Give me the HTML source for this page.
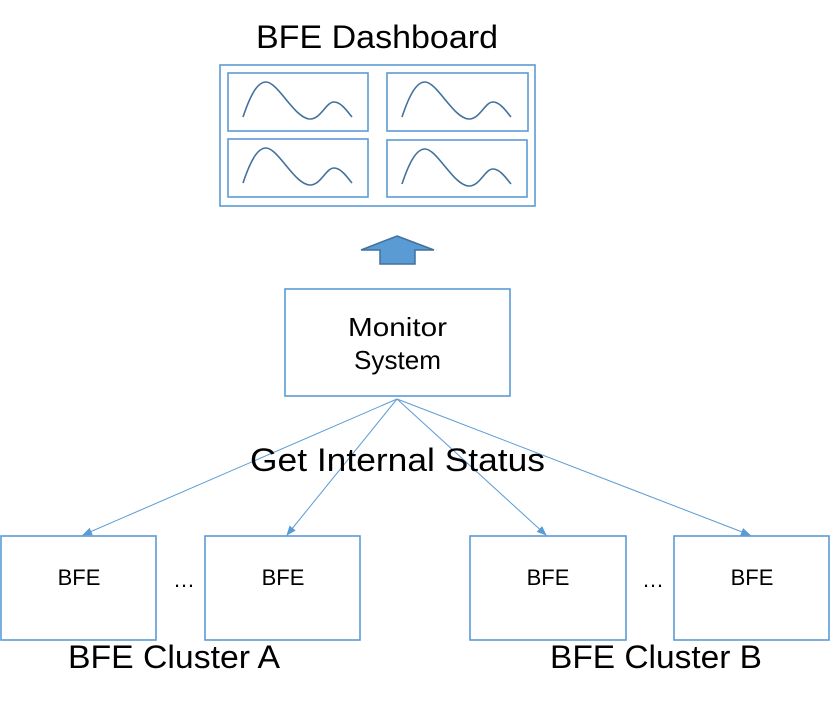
<!DOCTYPE html>
<html><head><style>body{margin:0;background:#fff}</style></head><body>
<svg width="830" height="700" xmlns="http://www.w3.org/2000/svg" font-family="'Liberation Sans', sans-serif">
<defs><marker id="a" markerWidth="10" markerHeight="8" refX="9" refY="4" orient="auto" markerUnits="userSpaceOnUse"><path d="M0,0 L10,4 L0,8z" fill="#5b9bd5"/></marker>
<path id="c" d="M0,44 C8,20 15,9 23,9 C35,9 52,46 67,46 C78,46 83,29 91,29 C98,29 104,38 109,44" fill="none" stroke="#41719c" stroke-width="1.6"/></defs>
<text x="256" y="48" font-size="32" textLength="242" lengthAdjust="spacingAndGlyphs">BFE Dashboard</text>
<g fill="none" stroke="#5b9bd5" stroke-width="1.6">
<rect x="220" y="65" width="315" height="141"/>
<rect x="228" y="73" width="140" height="58"/>
<rect x="387" y="73" width="141" height="58"/>
<rect x="228" y="139" width="140" height="58"/>
<rect x="387" y="140" width="140" height="57"/>
<rect x="285" y="289" width="225" height="107"/>
<rect x="1" y="536" width="155" height="104"/>
<rect x="205" y="536" width="155" height="104"/>
<rect x="470" y="536" width="156" height="104"/>
<rect x="674" y="536" width="155" height="104"/>
</g>
<use href="#c" x="243" y="73"/><use href="#c" x="402" y="73"/>
<use href="#c" x="243" y="139"/><use href="#c" x="402" y="140"/>
<path d="M397,236 L434,250 L415,250 L415,264 L380,264 L380,250 L361,250z" fill="#5b9bd5" stroke="#41719c" stroke-width="1.5"/>
<text x="348" y="336" font-size="26" textLength="99" lengthAdjust="spacingAndGlyphs">Monitor</text>
<text x="354" y="369" font-size="26" textLength="87" lengthAdjust="spacingAndGlyphs">System</text>
<g stroke="#5b9bd5" stroke-width="1" marker-end="url(#a)">
<line x1="397" y1="399" x2="83" y2="535"/>
<line x1="397" y1="399" x2="287" y2="535"/>
<line x1="397" y1="399" x2="546" y2="535"/>
<line x1="397" y1="399" x2="750" y2="535"/>
</g>
<text x="250" y="471" font-size="32" textLength="295" lengthAdjust="spacingAndGlyphs">Get Internal Status</text>
<g font-size="22" text-anchor="middle">
<text x="79" y="585">BFE</text><text x="283" y="585">BFE</text>
<text x="548" y="585">BFE</text><text x="752" y="585">BFE</text>
<text x="184" y="587">…</text><text x="653" y="587">…</text>
</g>
<text x="68" y="668" font-size="32" textLength="212" lengthAdjust="spacingAndGlyphs">BFE Cluster A</text>
<text x="550" y="668" font-size="32" textLength="212" lengthAdjust="spacingAndGlyphs">BFE Cluster B</text>
</svg>
</body></html>
